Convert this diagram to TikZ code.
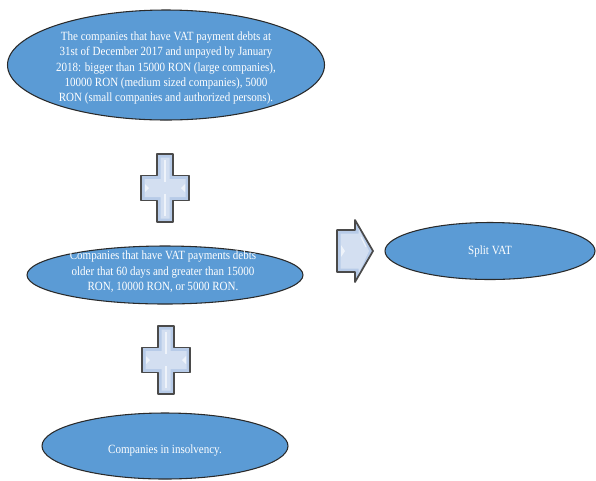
\documentclass[tikz,border=0pt]{standalone}
\usepackage{fontspec}
\newfontfamily\cfont[FakeStretch=0.88]{Liberation Serif}
\usetikzlibrary{shapes.geometric}
\definecolor{bubblefill}{HTML}{5B9BD5}
\definecolor{bubbleline}{HTML}{2A2A2A}
\definecolor{plusouter}{HTML}{B7CBE8}
\definecolor{plusinner}{HTML}{D3DFF1}
\definecolor{plushigh}{HTML}{EEF3FA}
\definecolor{plusline}{HTML}{4A4A4A}
\tikzset{
  bubble/.style={ellipse, draw=bubbleline, line width=0.8pt, fill=bubblefill, inner sep=0pt},
  btext/.style={text=white, font=\cfont\fontsize{9.4}{11.6}\selectfont, align=center, inner sep=0pt},
  plusmark/.pic={
    \draw[plusline, line width=1.3pt, fill=plusouter, line join=round]
      (-8,-34) -- (8,-34) -- (8,-12.5) -- (24,-12.5) -- (24,12.5) -- (8,12.5) -- (8,34) -- (-8,34)
      -- (-8,12.5) -- (-24,12.5) -- (-24,-12.5) -- (-8,-12.5) -- cycle;
    \fill[plusinner]
      (-4.5,-30.5) -- (4.5,-30.5) -- (4.5,-9) -- (20.5,-9) -- (20.5,9) -- (4.5,9) -- (4.5,30.5) -- (-4.5,30.5)
      -- (-4.5,9) -- (-20.5,9) -- (-20.5,-9) -- (-4.5,-9) -- cycle;
    \draw[plushigh, line width=0.8pt] (0,-28) -- (0,-6) (0,6) -- (0,28);
    \fill[plushigh] (-20,-4) -- (-16,0) -- (-20,4) -- cycle;
    \fill[plushigh] (20,-4) -- (16,0) -- (20,4) -- cycle;
  },
  arrowmark/.pic={
    \draw[plusline, line width=1.3pt, fill=plusouter, line join=round]
      (0,-21) -- (18,-21) -- (18,-31) -- (36,0) -- (18,31) -- (18,21) -- (0,21) -- cycle;
    \fill[plusinner]
      (3.5,-17.5) -- (21.5,-17.5) -- (21.5,-23) -- (32,0) -- (21.5,23) -- (21.5,17.5) -- (3.5,17.5) -- cycle;
    \fill[plushigh] (4,-6) -- (8,0) -- (4,6) -- cycle;
    \draw[plushigh, line width=0.8pt] (24,-14) -- (29,-4);
  }
}
\begin{document}
\begin{tikzpicture}[x=0.75pt, y=-0.75pt]
\useasboundingbox (0,0) rectangle (596,480);
% ellipses
\node[bubble, minimum width=237.75pt, minimum height=82.5pt] (e1) at (166,65) {};
\node[btext] (t1) at (166,68) {The companies that have VAT payment debts at\\ 31st of December 2017 and unpayed by January\\ 2018: bigger than 15000 RON (large companies),\\ 10000 RON (medium sized companies), 5000\\ RON (small companies and authorized persons).};
\node[bubble, minimum width=207pt, minimum height=43.5pt] (e2) at (165,275) {};
\node[btext] (t2) at (163,272) {Companies that have VAT payments debts\\ older that 60 days and greater than 15000\\ RON, 10000 RON, or 5000 RON.};
\node[bubble, minimum width=157.5pt, minimum height=42.75pt] (e3) at (490,251) {};
\node[btext] (t3) at (490,251) {Split VAT};
\node[bubble, minimum width=184.5pt, minimum height=49.5pt] (e4) at (165,446) {};
\node[btext] (t4) at (165,450) {Companies in insolvency.};
% symbols
\pic at (165,188) {plusmark};
\pic at (166,360) {plusmark};
\pic at (337,251) {arrowmark};
\end{tikzpicture}
\end{document}
